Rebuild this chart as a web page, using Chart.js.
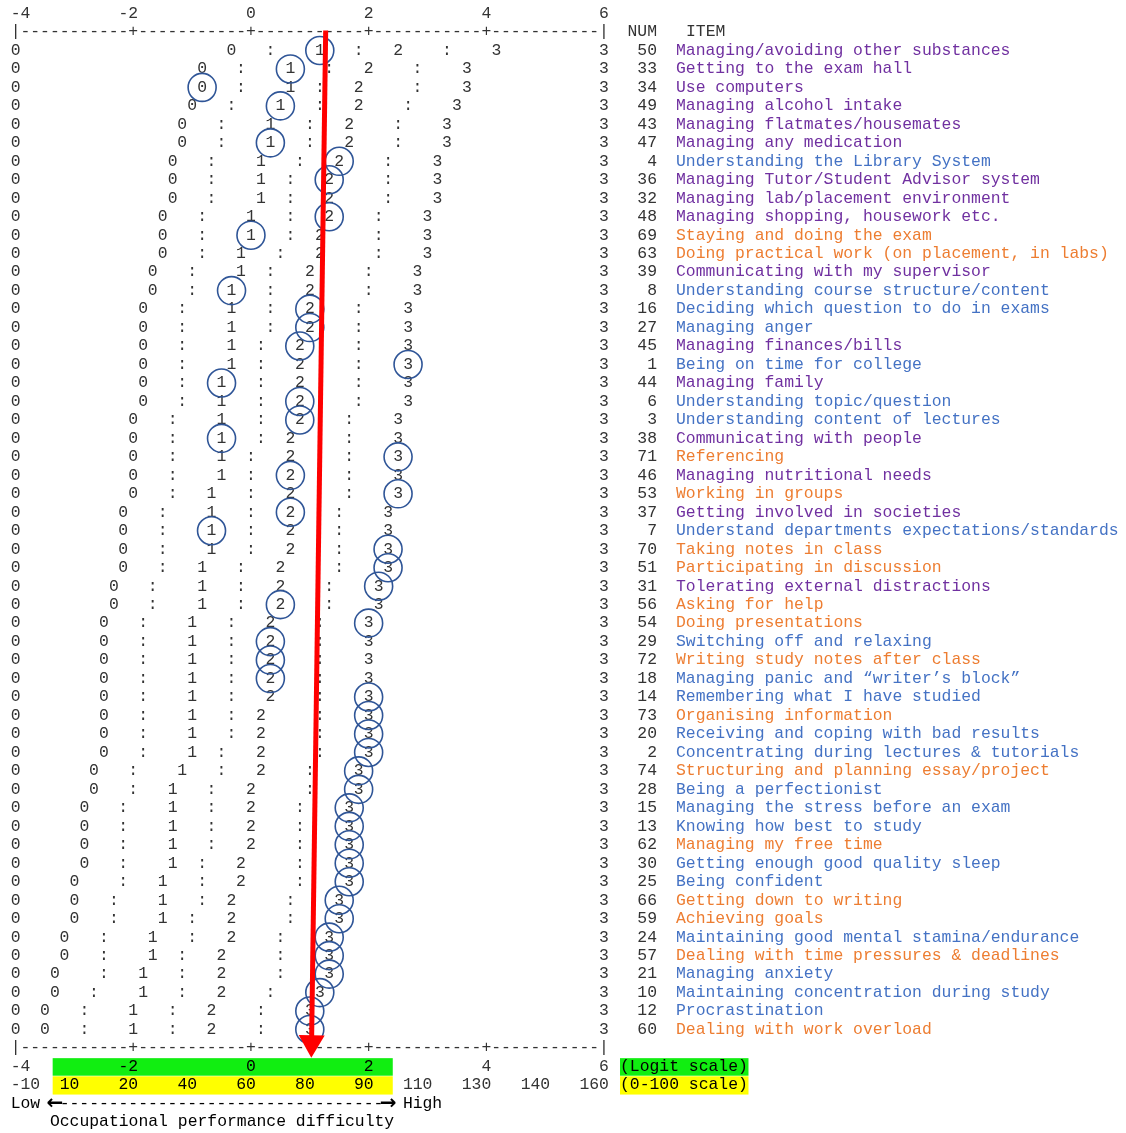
<!DOCTYPE html>
<html>
<head>
<meta charset="utf-8">
<script src="https://cdn.jsdelivr.net/npm/chart.js@4.4.0/dist/chart.umd.min.js"></script>
<style>
  body { margin: 0; background: #fff; }
  canvas { display: block; }
</style>
</head>
<body>
<canvas id="myChart" width="1126" height="1133"></canvas>
<script>
const itemNums = [50, 33, 34, 49, 43, 47, 4, 36, 32, 48, 69, 63, 39, 8, 16, 27, 45, 1, 44, 6, 3, 38, 71, 46, 53, 37, 7,
    70, 51, 31, 56, 54, 29, 72, 18, 14, 73, 20, 2, 74, 28, 15, 13, 62, 30, 25, 66, 59, 24, 57, 21, 10, 12, 60];

const itemNames = [
    'Managing/avoiding other substances', 'Getting to the exam hall', 'Use computers', 'Managing alcohol intake',
    'Managing flatmates/housemates', 'Managing any medication', 'Understanding the Library System',
    'Managing Tutor/Student Advisor system', 'Managing lab/placement environment', 'Managing shopping, housework etc.',
    'Staying and doing the exam', 'Doing practical work (on placement, in labs)', 'Communicating with my supervisor',
    'Understanding course structure/content', 'Deciding which question to do in exams', 'Managing anger',
    'Managing finances/bills', 'Being on time for college', 'Managing family', 'Understanding topic/question',
    'Understanding content of lectures', 'Communicating with people', 'Referencing', 'Managing nutritional needs',
    'Working in groups', 'Getting involved in societies', 'Understand departments expectations/standards',
    'Taking notes in class', 'Participating in discussion', 'Tolerating external distractions', 'Asking for help',
    'Doing presentations', 'Switching off and relaxing', 'Writing study notes after class',
    'Managing panic and \u201cwriter\u2019s block\u201d', 'Remembering what I have studied', 'Organising information',
    'Receiving and coping with bad results', 'Concentrating during lectures & tutorials',
    'Structuring and planning essay/project', 'Being a perfectionist', 'Managing the stress before an exam',
    'Knowing how best to study', 'Managing my free time', 'Getting enough good quality sleep', 'Being confident',
    'Getting down to writing', 'Achieving goals', 'Maintaining good mental stamina/endurance',
    'Dealing with time pressures & deadlines', 'Managing anxiety', 'Maintaining concentration during study',
    'Procrastination', 'Dealing with work overload'];

// P = purple, B = blue, O = orange item text
const itemGroups = ['P', 'P', 'P', 'P', 'P', 'P', 'B', 'P', 'P', 'P', 'O', 'O', 'P', 'B', 'B', 'B', 'P', 'B', 'P', 'B',
    'B', 'P', 'O', 'P', 'O', 'P', 'B', 'O', 'O', 'P', 'O', 'O', 'B', 'O', 'B', 'B', 'O', 'B', 'B', 'O', 'B', 'B', 'B',
    'O', 'B', 'B', 'O', 'O', 'B', 'O', 'B', 'B', 'B', 'O'];

// expected score positions on the logit scale, one value per item row
const cat0 = [-0.33, -0.83, -0.83, -1, -1.17, -1.17, -1.33, -1.33, -1.33, -1.5, -1.5, -1.5, -1.67, -1.67, -1.83, -1.83,
    -1.83, -1.83, -1.83, -1.83, -2, -2, -2, -2, -2, -2.17, -2.17, -2.17, -2.17, -2.33, -2.33, -2.5, -2.5, -2.5, -2.5,
    -2.5, -2.5, -2.5, -2.5, -2.67, -2.67, -2.83, -2.83, -2.83, -2.83, -3, -3, -3, -3.17, -3.17, -3.33, -3.33, -3.5, -3.5];
const colonA = [0.33, -0.17, -0.17, -0.33, -0.5, -0.5, -0.67, -0.67, -0.67, -0.83, -0.83, -0.83, -1, -1, -1.17, -1.17,
    -1.17, -1.17, -1.17, -1.17, -1.33, -1.33, -1.33, -1.33, -1.33, -1.5, -1.5, -1.5, -1.5, -1.67, -1.67, -1.83, -1.83,
    -1.83, -1.83, -1.83, -1.83, -1.83, -1.83, -2, -2, -2.17, -2.17, -2.17, -2.17, -2.17, -2.33, -2.33, -2.5, -2.5, -2.5,
    -2.67, -2.83, -2.83];
const cat1 = [1.17, 0.67, 0.67, 0.5, 0.33, 0.33, 0.17, 0.17, 0.17, 0, 0, -0.17, -0.17, -0.33, -0.33, -0.33, -0.33, -0.33,
    -0.5, -0.5, -0.5, -0.5, -0.5, -0.5, -0.67, -0.67, -0.67, -0.67, -0.83, -0.83, -0.83, -1, -1, -1, -1, -1, -1, -1, -1,
    -1.17, -1.33, -1.33, -1.33, -1.33, -1.33, -1.5, -1.5, -1.5, -1.67, -1.67, -1.83, -1.83, -2, -2];
const colonB = [1.83, 1.33, 1.17, 1.17, 1, 1, 0.83, 0.67, 0.67, 0.67, 0.67, 0.5, 0.33, 0.33, 0.33, 0.33, 0.17, 0.17, 0.17,
    0.17, 0.17, 0.17, 0, 0, 0, 0, 0, 0, -0.17, -0.17, -0.17, -0.33, -0.33, -0.33, -0.33, -0.33, -0.33, -0.33, -0.5, -0.5,
    -0.67, -0.67, -0.67, -0.67, -0.83, -0.83, -0.83, -1, -1, -1.17, -1.17, -1.17, -1.33, -1.33];
const cat2 = [2.5, 2, 1.83, 1.83, 1.67, 1.67, 1.5, 1.33, 1.33, 1.33, 1.17, 1.17, 1, 1, 1, 1, 0.83, 0.83, 0.83, 0.83, 0.83,
    0.67, 0.67, 0.67, 0.67, 0.67, 0.67, 0.67, 0.5, 0.5, 0.5, 0.33, 0.33, 0.33, 0.33, 0.33, 0.17, 0.17, 0.17, 0.17, 0, 0, 0,
    0, -0.17, -0.17, -0.33, -0.33, -0.33, -0.5, -0.5, -0.5, -0.67, -0.67];
const colonC = [3.33, 2.83, 2.83, 2.67, 2.5, 2.5, 2.33, 2.33, 2.33, 2.17, 2.17, 2.17, 2, 2, 1.83, 1.83, 1.83, 1.83, 1.83,
    1.83, 1.67, 1.67, 1.67, 1.67, 1.67, 1.5, 1.5, 1.5, 1.5, 1.33, 1.33, 1.17, 1.17, 1.17, 1.17, 1.17, 1.17, 1.17, 1.17, 1,
    1, 0.83, 0.83, 0.83, 0.83, 0.83, 0.67, 0.67, 0.5, 0.5, 0.5, 0.33, 0.17, 0.17];
const cat3 = [4.17, 3.67, 3.67, 3.5, 3.33, 3.33, 3.17, 3.17, 3.17, 3, 3, 3, 2.83, 2.83, 2.67, 2.67, 2.67, 2.67, 2.67, 2.67,
    2.5, 2.5, 2.5, 2.5, 2.5, 2.33, 2.33, 2.33, 2.33, 2.17, 2.17, 2, 2, 2, 2, 2, 2, 2, 2, 1.83, 1.83, 1.67, 1.67, 1.67, 1.67,
    1.67, 1.5, 1.5, 1.33, 1.33, 1.33, 1.17, 1, 1];

// which category is circled on each row (-1 = none)
const circled = [1, 1, 0, 1, -1, 1, 2, 2, -1, 2, 1, -1, -1, 1, 2, 2, 2, 3, 1, 2, 2, 1, 3, 2, 3, 2, 1, 3, 3, 3, 2, 3, 2, 2,
    2, 3, 3, 3, 3, 3, 3, 3, 3, 3, 3, 3, 3, 3, 3, 3, 3, 3, 3, 3];

// red arrow (top point, bottom tip)
const arrowX = [1.27, 1.03];
const arrowRow = [-1.08, 53.72];

const logitTicks = [-4, -2, 0, 2, 4, 6];
const logitTickLabels = ['-4', '-2', '0', '2', '4', '6'];
const scaleTicks = [-4, -3, -2, -1, 0, 1, 2, 3, 4, 5, 6];
const scaleTickLabels = ['-10', '10', '20', '40', '60', '80', '90', '110', '130', '140', '160'];

const MONO = '"Liberation Mono", "Courier New", "DejaVu Sans Mono", monospace';
const groupColors = { P: '#7030a0', B: '#4472c4', O: '#ed7d31' };
const digitColor = '#333333';

const catArrays = [cat0, cat1, cat2, cat3];
const circleData = [];
circled.forEach((c, i) => {
    if (c >= 0) circleData.push({ x: catArrays[c][i], y: i });
});

const textPlugin = {
    id: 'mapText',
    beforeDatasetsDraw(chart) {
        const { ctx, chartArea } = chart;
        const x = chart.scales.x;
        const y = chart.scales.y;
        const cw = (x.getPixelForValue(6) - x.getPixelForValue(-4)) / 60; // one character column
        const rowH = y.getPixelForValue(1) - y.getPixelForValue(0);
        ctx.save();
        ctx.font = '16.4px ' + MONO;
        ctx.textBaseline = 'middle';

        // highlight bands under the bottom scales
        const bandL = x.getPixelForValue(-3.37), bandR = x.getPixelForValue(2.41);
        const r55 = y.getPixelForValue(55), r56 = y.getPixelForValue(56);
        ctx.fillStyle = '#11ee11';
        ctx.fillRect(bandL, r55 - rowH * 0.45, bandR - bandL, rowH * 0.95);
        ctx.fillRect(chartArea.right + 16, r55 - rowH * 0.45, 13 * cw + 1, rowH * 0.95);
        ctx.fillStyle = '#ffff00';
        ctx.fillRect(bandL, r56 - rowH * 0.47, bandR - bandL, rowH * 0.99);
        ctx.fillRect(chartArea.right + 16, r56 - rowH * 0.47, 13 * cw + 1, rowH * 0.99);

        ctx.textAlign = 'center';
        // dashed axes top and bottom
        [-1, 54].forEach(r => {
            const py = y.getPixelForValue(r);
            ctx.fillStyle = digitColor;
            for (let c = 0; c <= 60; c++) {
                let ch = '-';
                if (c === 0 || c === 60) ch = '|';
                else if (c % 12 === 0) ch = '+';
                ctx.fillText(ch, x.getPixelForValue(-4 + c / 6), py);
            }
        });

        function drawTicks(vals, labels, row, inBand) {
            const py = y.getPixelForValue(row);
            vals.forEach((v, i) => {
                const s = labels[i];
                let first = x.getPixelForValue(v) - (s.length - 1) * cw;
                if (first < chartArea.left) first = chartArea.left;
                const mid = first + (s.length - 1) * cw / 2;
                ctx.fillStyle = (mid > bandL && mid < bandR && inBand) ? '#000' : digitColor;
                for (let k = 0; k < s.length; k++) ctx.fillText(s[k], first + k * cw, py);
            });
        }
        drawTicks(logitTicks, logitTickLabels, -2, false);
        drawTicks(logitTicks, logitTickLabels, 55, true);
        drawTicks(scaleTicks, scaleTickLabels, 56, true);

        // item rows
        itemNums.forEach((num, i) => {
            const py = y.getPixelForValue(i);
            ctx.textAlign = 'center';
            ctx.fillStyle = digitColor;
            ctx.fillText('0', x.getPixelForValue(-4), py);
            ctx.fillText('3', x.getPixelForValue(6), py);
            [[cat0, '0'], [colonA, ':'], [cat1, '1'], [colonB, ':'], [cat2, '2'], [colonC, ':'], [cat3, '3']]
                .forEach(([arr, ch]) => ctx.fillText(ch, x.getPixelForValue(arr[i]), py));
            ctx.textAlign = 'right';
            ctx.fillText(String(num), chartArea.right + 53, py);
            ctx.textAlign = 'left';
            ctx.fillStyle = groupColors[itemGroups[i]];
            ctx.fillText(itemNames[i], chartArea.right + 72, py);
        });

        // headers
        const hy = y.getPixelForValue(-1);
        ctx.fillStyle = digitColor;
        ctx.textAlign = 'right';
        ctx.fillText('NUM', chartArea.right + 53, hy);
        ctx.textAlign = 'left';
        ctx.fillText('ITEM', chartArea.right + 82, hy);

        // bottom legend texts
        ctx.fillStyle = '#000';
        ctx.fillText('(Logit scale)', chartArea.right + 16, r55);
        ctx.fillText('(0-100 scale)', chartArea.right + 16, r56);
        ctx.textAlign = 'center';
        const lowHigh = 'Low \u2190' + '-'.repeat(33) + '\u2192 High';
        const r57 = y.getPixelForValue(57);
        for (let k = 0; k < lowHigh.length; k++) {
            const ch = lowHigh[k];
            ctx.font = (ch === '\u2190' || ch === '\u2192') ? 'bold 20px "DejaVu Sans"' : '16.4px ' + MONO;
            ctx.fillText(ch, x.getPixelForValue(-4) + k * cw, r57);
        }
        ctx.font = '16.4px ' + MONO;
        ctx.textAlign = 'left';
        ctx.fillText('Occupational performance difficulty', x.getPixelForValue(-4) + 3.5 * cw, y.getPixelForValue(58));
        ctx.restore();
    }
};

new Chart(document.getElementById('myChart'), {
    type: 'scatter',
    data: {
        datasets: [
            {
                label: 'mean',
                data: arrowX.map((v, i) => ({ x: v, y: arrowRow[i] })),
                showLine: true,
                borderColor: '#ff0000',
                borderWidth: 5,
                pointRadius: [0, 10],
                pointStyle: 'triangle',
                pointRotation: 181,
                pointBackgroundColor: '#ff0000',
                pointBorderColor: '#ff0000',
                clip: false
            },
            {
                label: 'observed',
                data: circleData,
                pointRadius: 14,
                pointStyle: 'circle',
                pointBorderWidth: 1.6,
                pointBorderColor: '#2f5597',
                pointBackgroundColor: 'rgba(0,0,0,0)',
                clip: false
            }
        ]
    },
    options: {
        responsive: false,
        animation: false,
        layout: { padding: { left: 14, right: 522, top: 32, bottom: 85 } },
        scales: {
            x: { type: 'linear', min: -4, max: 6, display: false },
            y: { type: 'linear', min: -1, max: 54, reverse: true, display: false }
        },
        plugins: {
            legend: { display: false },
            tooltip: { enabled: false }
        }
    },
    plugins: [textPlugin]
});
</script>
</body>
</html>
